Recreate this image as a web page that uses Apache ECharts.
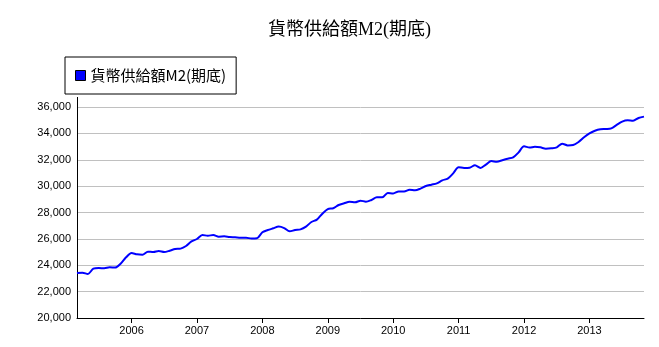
<!DOCTYPE html>
<html><head><meta charset="utf-8">
<script src="https://cdn.jsdelivr.net/npm/echarts@6/dist/echarts.min.js"></script>
<style>html,body{margin:0;padding:0;background:#fff}#c{width:659px;height:347px}</style>
</head><body><div id="c"></div>
<script>
const titleText = '貨幣供給額M2(期底)';
const seriesName = '貨幣供給額M2(期底)';
const startYear = 2005, startMonth = 3, monthCount = 105;
const months = [];
for (let i = 0; i < monthCount; i++) {
  const m = startMonth - 1 + i;
  const y = startYear + Math.floor(m / 12);
  const mm = (m % 12) + 1;
  months.push(y + '-' + (mm < 10 ? '0' + mm : mm));
}
const m2Values = [
  23410, 23440, 23340, 23740, 23790, 23770, 23840, 23820, 24120, 24600,
  24930, 24830, 24800, 25030, 25000, 25080, 25000, 25100, 25230, 25260, 25460, 25810,
  25990, 26290, 26240, 26290, 26170, 26190, 26140, 26120, 26090, 26090, 26020, 26040,
  26500, 26670, 26800, 26930, 26820, 26570, 26670, 26720, 26930, 27280, 27460, 27910,
  28260, 28320, 28570, 28700, 28820, 28770, 28900, 28820, 28950, 29150, 29150, 29480,
  29450, 29600, 29600, 29730, 29680, 29810, 30010, 30110, 30210, 30440, 30570, 30970,
  31430, 31380, 31400, 31580, 31380, 31630, 31900, 31850, 31960, 32080, 32180, 32560,
  33020, 32920, 32990, 32940, 32840, 32870, 32940, 33220, 33090, 33120, 33350, 33700,
  34000, 34200, 34310, 34330, 34380, 34640, 34890, 34990, 34960, 35170, 35270
];
const yMin = 20000, yMax = 36000, yStep = 2000;

const chart = echarts.init(document.getElementById('c'), null, {renderer: 'canvas'});
const isJan = (idx, val) => String(val).slice(5) === '01';
chart.setOption({
  animation: false,
  backgroundColor: '#fff',
  title: {
    text: titleText, left: 268, top: 21, padding: 0,
    textStyle: {fontFamily: '"Liberation Serif", "Noto Sans CJK TC", serif', fontSize: 18, fontWeight: 'normal', color: '#000'}
  },
  legend: {
    left: 65, top: 57, orient: 'horizontal',
    padding: [11, 10, 11, 10],
    borderColor: '#000', borderWidth: 1,
    itemWidth: 10, itemHeight: 10, icon: 'rect',
    itemStyle: {borderColor: '#000', borderWidth: 1},
    textStyle: {fontFamily: '"Noto Sans CJK TC", "Liberation Sans", sans-serif', fontSize: 15, color: '#000', padding: [0,0,0,0]},
    data: [seriesName]
  },
  grid: {left: 77, right: 15, top: 107, bottom: 29, containLabel: false},
  xAxis: {
    type: 'category', data: months, boundaryGap: false,
    axisLine: {lineStyle: {color: '#000', width: 1}},
    axisTick: {show: true, length: 5, interval: isJan, lineStyle: {color: '#000'}},
    axisLabel: {interval: isJan, formatter: v => v.slice(0, 4), margin: 7,
      fontFamily: '"Liberation Sans", Arial, sans-serif', fontSize: 11, color: '#000'},
    splitLine: {show: false}
  },
  yAxis: {
    type: 'value', min: yMin, max: yMax, interval: yStep,
    axisLine: {show: true, lineStyle: {color: '#000', width: 1}},
    axisTick: {show: false},
    axisLabel: {formatter: v => v.toLocaleString('en-US'), margin: 6,
      fontFamily: '"Liberation Sans", Arial, sans-serif', fontSize: 11, color: '#000'},
    splitLine: {show: true, lineStyle: {color: '#c0c0c0', width: 1}}
  },
  graphic: [{
    type: 'line', shape: {x1: 77.5, y1: 97, x2: 77.5, y2: 107},
    style: {stroke: '#000', lineWidth: 1}
  }],
  series: [{
    name: seriesName, type: 'line', data: m2Values,
    smooth: 0.3, showSymbol: false, symbol: 'none',
    lineStyle: {color: '#0000ff', width: 2},
    itemStyle: {color: '#0000ff'}
  }]
});
</script></body></html>
